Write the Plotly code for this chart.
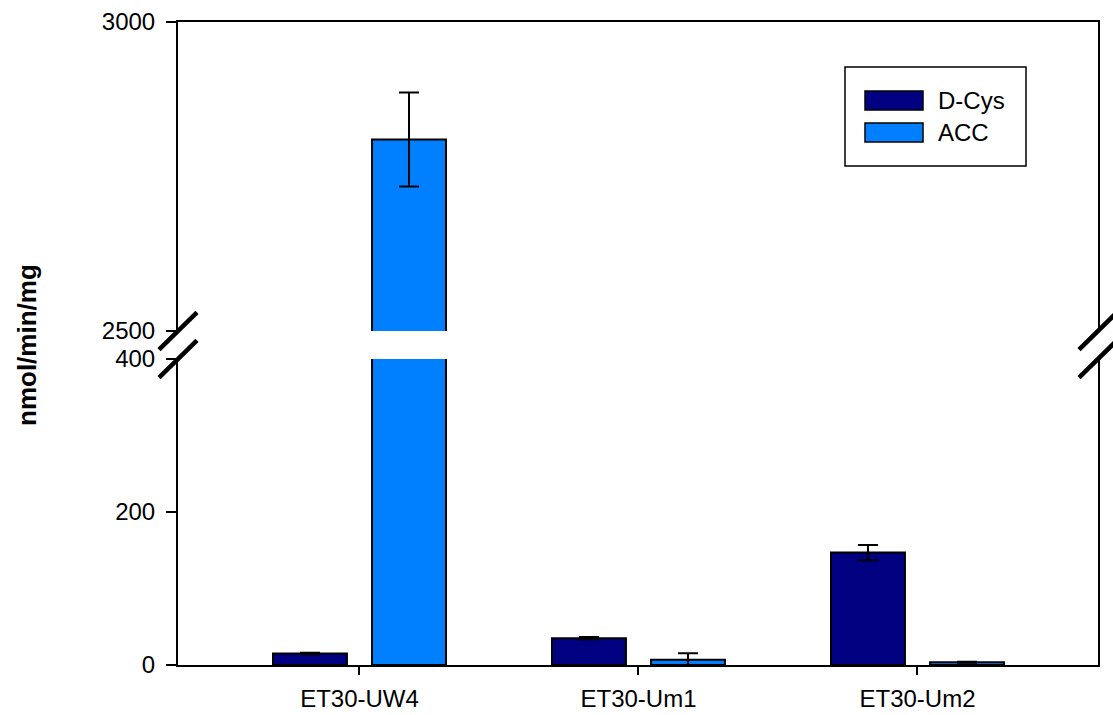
import plotly.graph_objects as go

# ---- data ----
groups = ["ET30-UW4", "ET30-Um1", "ET30-Um2"]
series_names = ["D-Cys", "ACC"]
dcys = [15, 35, 147]
dcys_err = [1, 1.5, 10]
acc = [2810, 7, 3.5]
acc_err = [76, 8.3, 0.6]
lower_ticks = [0, 200, 400]
upper_ticks = [2500, 3000]
colors = ["#000080", "#0080FF"]

# ---- geometry (pixels) ----
W, H = 1113, 715
L, R, T, B = 178, 1098, 22, 665
PW, PH = R - L, B - T
lower_top_px = 359
upper_bot_px = 331

def px(x):
    return (x - L) / PW

def py(y):
    return (B - y) / PH

FONT = "Liberation Sans, Arial, sans-serif"
xpos = list(range(len(groups)))
bar_w = 0.265
offsets = [-0.31, 0.045]

fig = go.Figure()
vals = [dcys, acc]
errs = [dcys_err, acc_err]
for ax_x, ax_y in [("x", "y"), ("x2", "y2")]:
    for i, name in enumerate(series_names):
        fig.add_trace(go.Bar(
            x=xpos, y=vals[i], name=name, xaxis=ax_x, yaxis=ax_y,
            width=bar_w, offset=offsets[i],
            marker=dict(color=colors[i], line=dict(color="black", width=2)),
            error_y=dict(type="data", array=errs[i], visible=True,
                         color="black", thickness=2, width=10),
            showlegend=False,
        ))

axis_common = dict(showline=True, linecolor="black", linewidth=2,
                   showgrid=False, zeroline=False, automargin=False,
                   tickfont=dict(family=FONT, size=24, color="black"))

fig.update_layout(
    width=W, height=H,
    margin=dict(l=L, r=W - R, t=T, b=H - B, pad=0),
    paper_bgcolor="white", plot_bgcolor="white",
    barmode="overlay",
    showlegend=False,
    xaxis=dict(**axis_common, range=[-0.6505, 2.647], tickmode="array",
               tickvals=xpos, ticktext=groups, ticks="outside", ticklen=8,
               tickwidth=2, tickcolor="black", anchor="y", ticklabelstandoff=3),
    xaxis2=dict(**axis_common, matches="x", range=[-0.6505, 2.647], anchor="y2",
                side="top", showticklabels=False, ticks=""),
    yaxis=dict(**axis_common, domain=[0, py(lower_top_px)], range=[0, 400],
               tickmode="array", tickvals=lower_ticks, ticks="outside",
               ticklen=10, tickwidth=2, tickcolor="black", mirror=True,
               anchor="x", ticklabelstandoff=6),
    yaxis2=dict(**axis_common, domain=[py(upper_bot_px), 1], range=[2500, 3000],
                tickmode="array", tickvals=upper_ticks, ticks="outside",
                ticklen=10, tickwidth=2, tickcolor="black", mirror=True,
                anchor="x2", ticklabelstandoff=6),
)

shapes = []
# axis break marks
for ax_px in [L, R]:
    for mid_y in [upper_bot_px, lower_top_px]:
        shapes.append(dict(type="line", xref="paper", yref="paper",
                           x0=px(ax_px - 19), y0=py(mid_y + 18.7),
                           x1=px(ax_px + 19), y1=py(mid_y - 18.7),
                           line=dict(color="black", width=4.5)))
# legend box
shapes.append(dict(type="rect", xref="paper", yref="paper",
                   x0=px(845), x1=px(1026), y0=py(166), y1=py(67),
                   line=dict(color="black", width=1.5), fillcolor="white"))
sw_y = [(91, 110), (123, 142)]
for i in range(2):
    shapes.append(dict(type="rect", xref="paper", yref="paper",
                       x0=px(865), x1=px(923), y0=py(sw_y[i][1]), y1=py(sw_y[i][0]),
                       line=dict(color="black", width=1.5), fillcolor=colors[i]))

annotations = []
for i, name in enumerate(series_names):
    annotations.append(dict(text=name, xref="paper", yref="paper",
                            x=px(936), y=py((sw_y[i][0] + sw_y[i][1]) / 2),
                            xanchor="left", yanchor="middle", showarrow=False,
                            font=dict(family=FONT, size=24, color="black")))
annotations.append(dict(text="<b>nmol/min/mg</b>", xref="paper", yref="paper",
                        x=px(27), y=py(345), xanchor="center", yanchor="middle",
                        textangle=-90, showarrow=False,
                        font=dict(family=FONT, size=26, color="black")))

fig.update_layout(shapes=shapes, annotations=annotations)
fig.write_html("out.html")
